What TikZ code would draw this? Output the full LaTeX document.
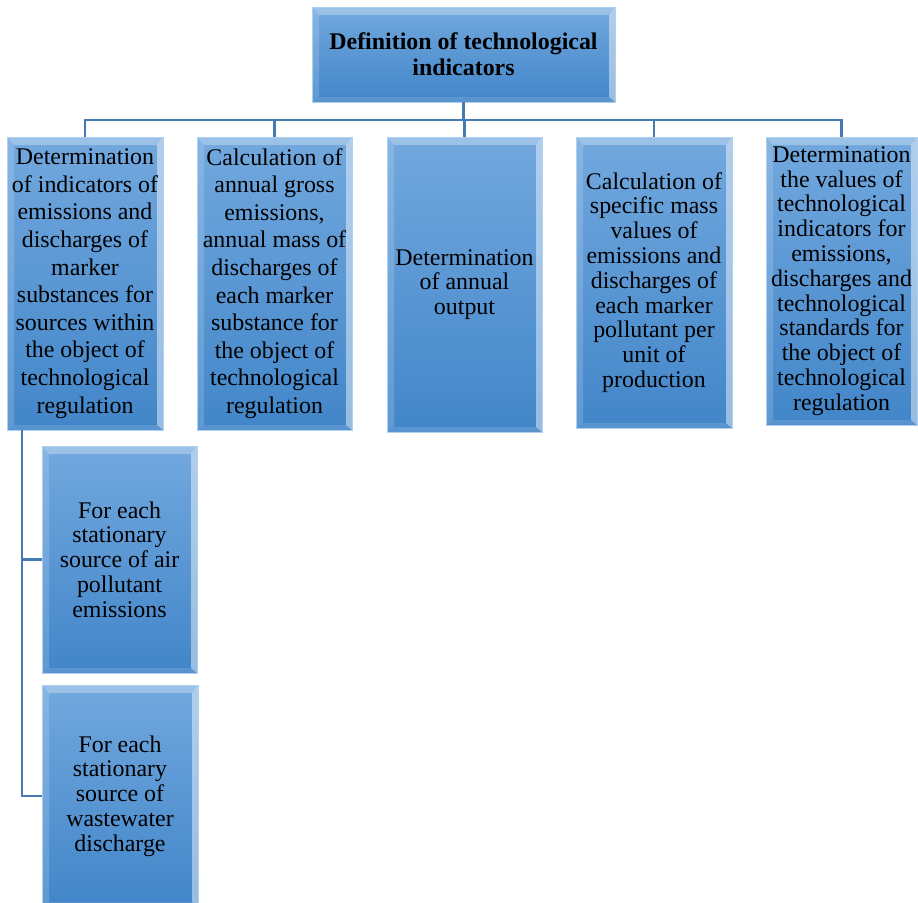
\documentclass[tikz,border=0pt]{standalone}
\usepackage{fontspec}
\setmainfont{Liberation Serif}
\usetikzlibrary{calc}
\definecolor{boxtop}{RGB}{114,168,222}
\definecolor{boxbot}{RGB}{66,134,201}
\definecolor{boxrim}{RGB}{175,208,238}
\definecolor{linkc}{RGB}{70,122,178}
\tikzset{
  x=1pt, y=-1pt,
  bevelbox/.style={rectangle, inner sep=0pt, align=center,
    top color=boxtop, bottom color=boxbot,
    draw=boxrim, line width=0.8pt,
    font=\fontsize{23.9}{24.8}\selectfont,
    path picture={
      \path (path picture bounding box.north west) coordinate (pnw)
            (path picture bounding box.north east) coordinate (pne)
            (path picture bounding box.south west) coordinate (psw)
            (path picture bounding box.south east) coordinate (pse);
      % top face of the bevel
      \fill[white, opacity=0.30] (pnw) -- (pne) -- ($(pne)+(-6,8)$) -- ($(pnw)+(7,8)$) -- cycle;
      % left face
      \fill[white, opacity=0.16] (pnw) -- ($(pnw)+(7,8)$) -- ($(psw)+(7,-5)$) -- (psw) -- cycle;
      % right face
      \fill[white, opacity=0.45] (pne) -- ($(pne)+(-6,8)$) -- ($(pse)+(-6,-5)$) -- (pse) -- cycle;
      % bottom face
      \fill[white, opacity=0.12] (psw) -- ($(psw)+(7,-5)$) -- ($(pse)+(-6,-5)$) -- (pse) -- cycle;
    }},
  wide/.style={font=\fontsize{23.9}{27.6}\selectfont},
  titlefont/.style={font=\fontsize{23.9}{26}\selectfont\bfseries},
  link/.style={draw=linkc, line width=2.6pt}
}
\begin{document}
\begin{tikzpicture}
\useasboundingbox (0,0) rectangle (918,902);
\clip (0,0) rectangle (918,902);

% root
\node[bevelbox, titlefont, minimum width=303pt, minimum height=95pt] (root) at (463.5,54.5)
  {Definition of technological\\indicators};

% second level
\node[bevelbox, wide, minimum width=156pt, minimum height=293pt] (b1) at (85,283.5)
  {Determination\\of indicators of\\emissions and\\discharges of\\marker\\substances for\\sources within\\the object of\\technological\\regulation};
\node[bevelbox, wide, minimum width=155pt, minimum height=293pt] (b2) at (274.5,283.5)
  {Calculation of\\annual gross\\emissions,\\annual mass of\\discharges of\\each marker\\substance for\\the object of\\technological\\regulation};
\node[bevelbox, minimum width=155pt, minimum height=295pt] (b3) at (464.5,284.5)
  {Determination\\of annual\\output};
\node[bevelbox, minimum width=156pt, minimum height=291pt] (b4) at (654,282.5)
  {Calculation of\\specific mass\\values of\\emissions and\\discharges of\\each marker\\pollutant per\\unit of\\production};
\node[bevelbox, minimum width=151pt, minimum height=288pt] (b5) at (841.5,281)
  {Determination\\the values of\\technological\\indicators for\\emissions,\\discharges and\\technological\\standards for\\the object of\\technological\\regulation};

% third level
\node[bevelbox, minimum width=155pt, minimum height=227pt] (c1) at (119.5,559.5)
  {For each\\stationary\\source of air\\pollutant\\emissions};
\node[bevelbox, minimum width=156pt, minimum height=222pt] (c2) at (120,796)
  {For each\\stationary\\source of\\wastewater\\discharge};

% connectors
\coordinate (bus) at (465,120);
\coordinate (trunk) at (22,430);
\draw[link] (root.south) -- (root.south |- bus);
\draw[link] (b1.north) -- (b1.north |- bus) -- (b5.north |- bus) -- (b5.north);
\draw[link] (b2.north) -- (b2.north |- bus);
\draw[link] (b3.north) -- (b3.north |- bus);
\draw[link] (b4.north) -- (b4.north |- bus);
\draw[link] (trunk) |- (c1.west);
\draw[link] (trunk) |- (c2.west);
\end{tikzpicture}
\end{document}
